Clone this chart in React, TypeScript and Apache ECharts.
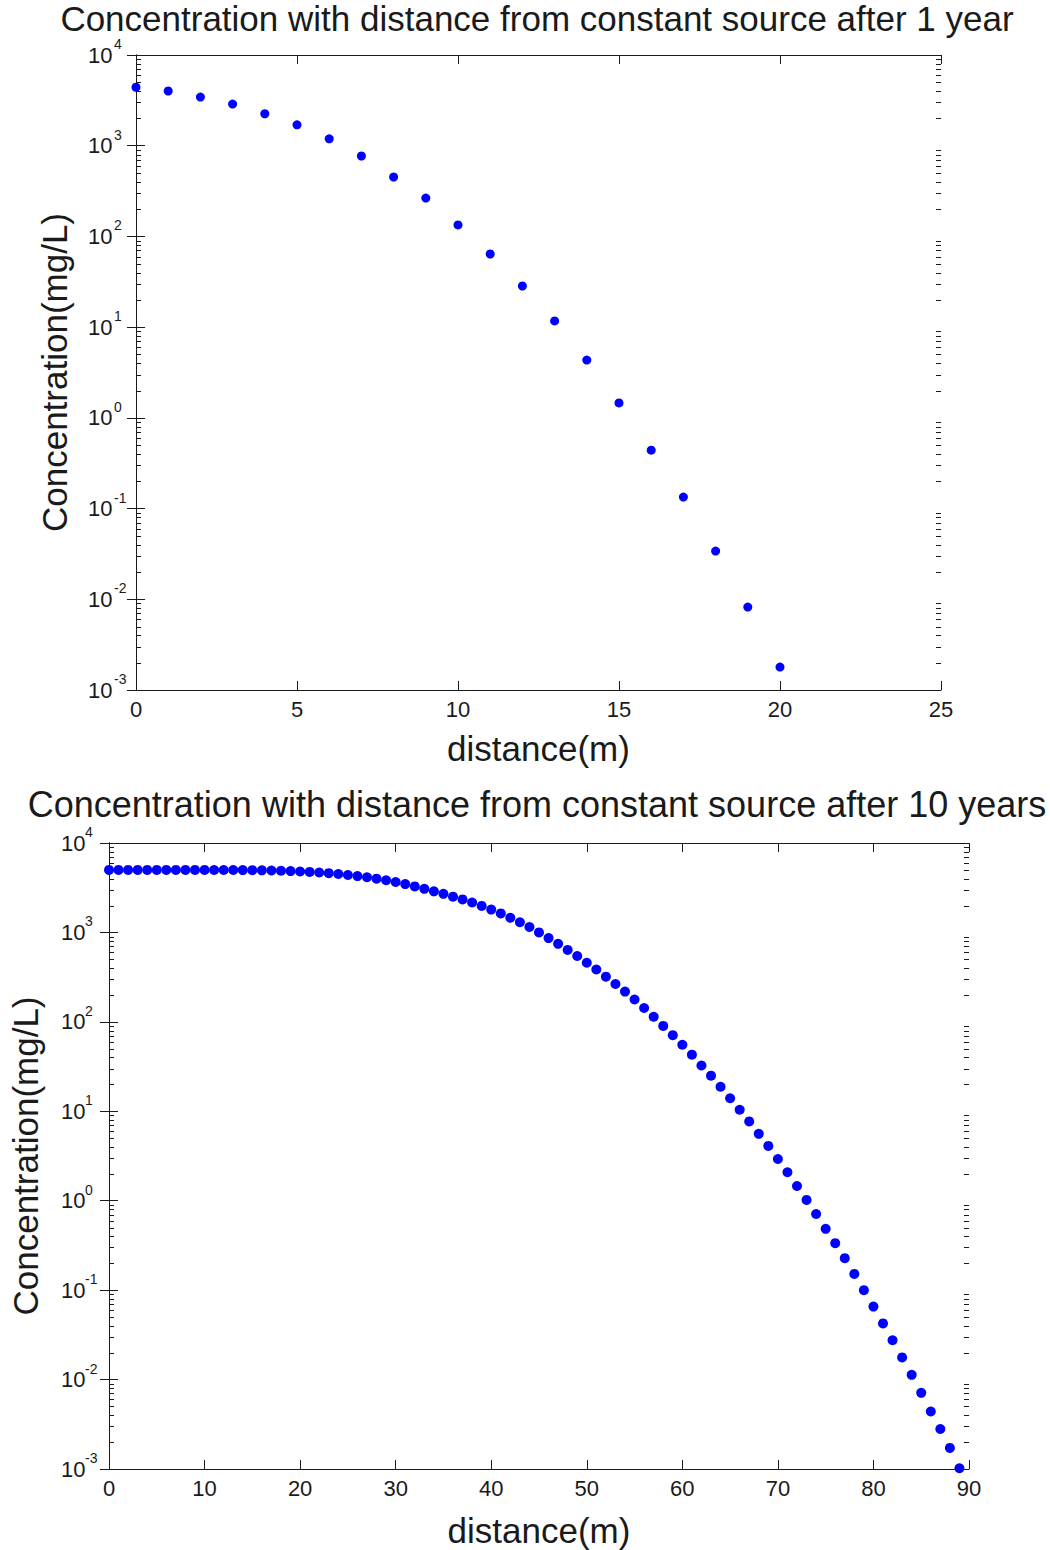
import React, { useEffect, useRef } from "react";
import * as echarts from "echarts";

const TITLE_1 = "Concentration with distance from constant source after 1 year";
const TITLE_10 = "Concentration with distance from constant source after 10 years";
const X_NAME = "distance(m)";
const Y_NAME = "Concentration(mg/L)";

// Chart 1: after 1 year
const dist1 = [0, 1, 2, 3, 4, 5, 6, 7, 8, 9, 10, 11, 12, 13, 14, 15, 16, 17, 18, 19, 20];
const conc1 = [
  4410, 4010, 3440, 2880, 2250, 1700, 1190, 770, 452, 265, 134, 64, 28.4, 11.7, 4.34, 1.46, 0.44,
  0.134, 0.034, 0.0082, 0.00179,
];

// Chart 2: after 10 years
const dist10 = [
  0, 1, 2, 3, 4, 5, 6, 7, 8, 9, 10, 11, 12, 13, 14, 15, 16, 17, 18, 19, 20, 21, 22, 23, 24, 25, 26,
  27, 28, 29, 30, 31, 32, 33, 34, 35, 36, 37, 38, 39, 40, 41, 42, 43, 44, 45, 46, 47, 48, 49, 50, 51,
  52, 53, 54, 55, 56, 57, 58, 59, 60, 61, 62, 63, 64, 65, 66, 67, 68, 69, 70, 71, 72, 73, 74, 75, 76,
  77, 78, 79, 80, 81, 82, 83, 84, 85, 86, 87, 88, 89,
];
const conc10 = [
  5000, 5000, 5000, 5000, 5000, 5000, 5000, 5000, 5000, 5000, 5000, 4995, 4990, 4985, 4975, 4965,
  4950, 4925, 4895, 4855, 4805, 4745, 4675, 4595, 4500, 4390, 4270, 4140, 3990, 3830, 3660, 3470,
  3270, 3070, 2880, 2700, 2510, 2340, 2160, 1980, 1800, 1630, 1460, 1300, 1150, 1000, 865, 745, 638,
  545, 458, 385, 320, 265, 218, 178, 143, 114, 90, 71, 55.5, 43, 32.5, 25, 18.8, 14.0, 10.4, 7.7,
  5.6, 4.1, 2.93, 2.08, 1.46, 1.02, 0.71, 0.485, 0.335, 0.228, 0.152, 0.1, 0.0655, 0.0425, 0.0275,
  0.0177, 0.0113, 0.0071, 0.0044, 0.0028, 0.00172, 0.00102,
];

// Axis settings
const X1_MAX = 25;
const X1_INTERVAL = 5;
const X10_MAX = 90;
const X10_INTERVAL = 10;
const Y_MIN = 0.001;
const Y_MAX = 10000;
const MINOR_DECADES = [0.001, 0.01, 0.1, 1, 10, 100, 1000];
const MINOR_MULTS = [2, 3, 4, 5, 6, 7, 8, 9];

const FONT = "'Liberation Sans', Arial, sans-serif";
const INK = "#1a1a1a";

const minorValues: number[] = [];
MINOR_DECADES.forEach((d) => MINOR_MULTS.forEach((m) => minorValues.push(+(d * m).toPrecision(3))));

function makeAxes(
  gridIndex: number,
  xMax: number,
  xInterval: number,
  yGap: number,
  xGap: number,
  supMargin: number
) {
  const line = { show: true, lineStyle: { color: INK, width: 1 } };
  const tick = { show: true, inside: true, length: 9, lineStyle: { color: INK } };
  const xAxes = [
    {
      type: "value",
      gridIndex,
      min: 0,
      max: xMax,
      interval: xInterval,
      position: "bottom",
      axisLine: line,
      axisTick: tick,
      axisLabel: { show: true, margin: 8, fontSize: 22, fontFamily: FONT, color: INK },
      splitLine: { show: false },
      name: X_NAME,
      nameLocation: "middle",
      nameGap: xGap,
      nameTextStyle: { fontSize: 35, fontFamily: FONT, color: INK },
    },
    {
      type: "value",
      gridIndex,
      min: 0,
      max: xMax,
      interval: xInterval,
      position: "top",
      axisLine: line,
      axisTick: tick,
      axisLabel: { show: false },
      splitLine: { show: false },
    },
  ];
  const logBase = {
    type: "log",
    logBase: 10,
    gridIndex,
    min: Y_MIN,
    max: Y_MAX,
    splitNumber: 7,
    splitLine: { show: false },
  };
  const yAxes = [
    {
      ...logBase,
      position: "left",
      axisLine: line,
      axisTick: tick,
      axisLabel: {
        show: true,
        margin: 48,
        align: "left",
        verticalAlign: "middle",
        fontSize: 22,
        lineHeight: 22,
        fontFamily: FONT,
        color: INK,
        formatter: () => "10",
      },
      name: Y_NAME,
      nameLocation: "middle",
      nameGap: yGap,
      nameTextStyle: { fontSize: 35, fontFamily: FONT, color: INK },
    },
    {
      ...logBase,
      position: "right",
      axisLine: line,
      axisTick: tick,
      axisLabel: { show: false },
    },
    {
      ...logBase,
      position: "left",
      axisLine: { show: false },
      axisTick: { show: false },
      axisLabel: {
        show: true,
        margin: supMargin,
        align: "left",
        verticalAlign: "bottom",
        lineHeight: 14,
        padding: [0, 0, 4, 0],
        fontSize: 14,
        fontFamily: FONT,
        color: INK,
        formatter: (v: number) => String(Math.round(Math.log10(v))),
      },
    },
  ];
  return { xAxes, yAxes };
}

function minorTickSeries(xAxisIndex: number, yAxisIndex: number) {
  return {
    type: "custom",
    xAxisIndex,
    yAxisIndex,
    silent: true,
    clip: false,
    data: minorValues.map((v) => [0, v]),
    renderItem: (params: any, api: any) => {
      const cs = params.coordSys;
      const pt = api.coord([0, api.value(1)]);
      const y = Math.round(pt[1]) + 0.5;
      const style = { stroke: INK, lineWidth: 1 };
      return {
        type: "group",
        children: [
          { type: "line", shape: { x1: cs.x, y1: y, x2: cs.x + 5, y2: y }, style },
          { type: "line", shape: { x1: cs.x + cs.width - 5, y1: y, x2: cs.x + cs.width, y2: y }, style },
        ],
      };
    },
  };
}

export default function App() {
  const ref = useRef<HTMLDivElement>(null);

  useEffect(() => {
    if (!ref.current) return;
    const chart = echarts.init(ref.current, undefined, { renderer: "svg" });

    const a1 = makeAxes(0, X1_MAX, X1_INTERVAL, 64, 41, 22);
    const a2 = makeAxes(1, X10_MAX, X10_INTERVAL, 66, 44, 24);

    const option: any = {
      animation: false,
      backgroundColor: "#ffffff",
      grid: [
        { left: 136, top: 55, width: 805, height: 635, containLabel: false },
        { left: 108, top: 843, width: 861, height: 626, containLabel: false },
      ],
      xAxis: [...a1.xAxes, ...a2.xAxes],
      yAxis: [...a1.yAxes, ...a2.yAxes],
      graphic: [
        {
          type: "text",
          x: 537,
          y: 18,
          style: {
            text: TITLE_1,
            font: `35px ${FONT}`,
            lineHeight: 34,
            fill: INK,
            textAlign: "center",
            textVerticalAlign: "middle",
          },
        },
        {
          type: "text",
          x: 537,
          y: 804,
          style: {
            text: TITLE_10,
            font: `36px ${FONT}`,
            lineHeight: 34,
            fill: INK,
            textAlign: "center",
            textVerticalAlign: "middle",
          },
        },
      ],
      series: [
        {
          type: "scatter",
          xAxisIndex: 0,
          yAxisIndex: 0,
          symbol: "circle",
          symbolSize: 9,
          itemStyle: { color: "#0000ff", opacity: 1 },
          data: dist1.map((d, i) => [d, conc1[i]]),
          clip: false,
        },
        {
          type: "scatter",
          xAxisIndex: 2,
          yAxisIndex: 3,
          symbol: "circle",
          symbolSize: 10,
          itemStyle: { color: "#0000ff", opacity: 1 },
          data: dist10.map((d, i) => [d, conc10[i]]),
          clip: false,
        },
        minorTickSeries(0, 0),
        minorTickSeries(2, 3),
      ],
    };

    chart.setOption(option);
    return () => chart.dispose();
  }, []);

  return (
    <div
      ref={ref}
      style={{ position: "absolute", left: 0, top: 0, width: 1050, height: 1550, background: "#fff" }}
    />
  );
}
